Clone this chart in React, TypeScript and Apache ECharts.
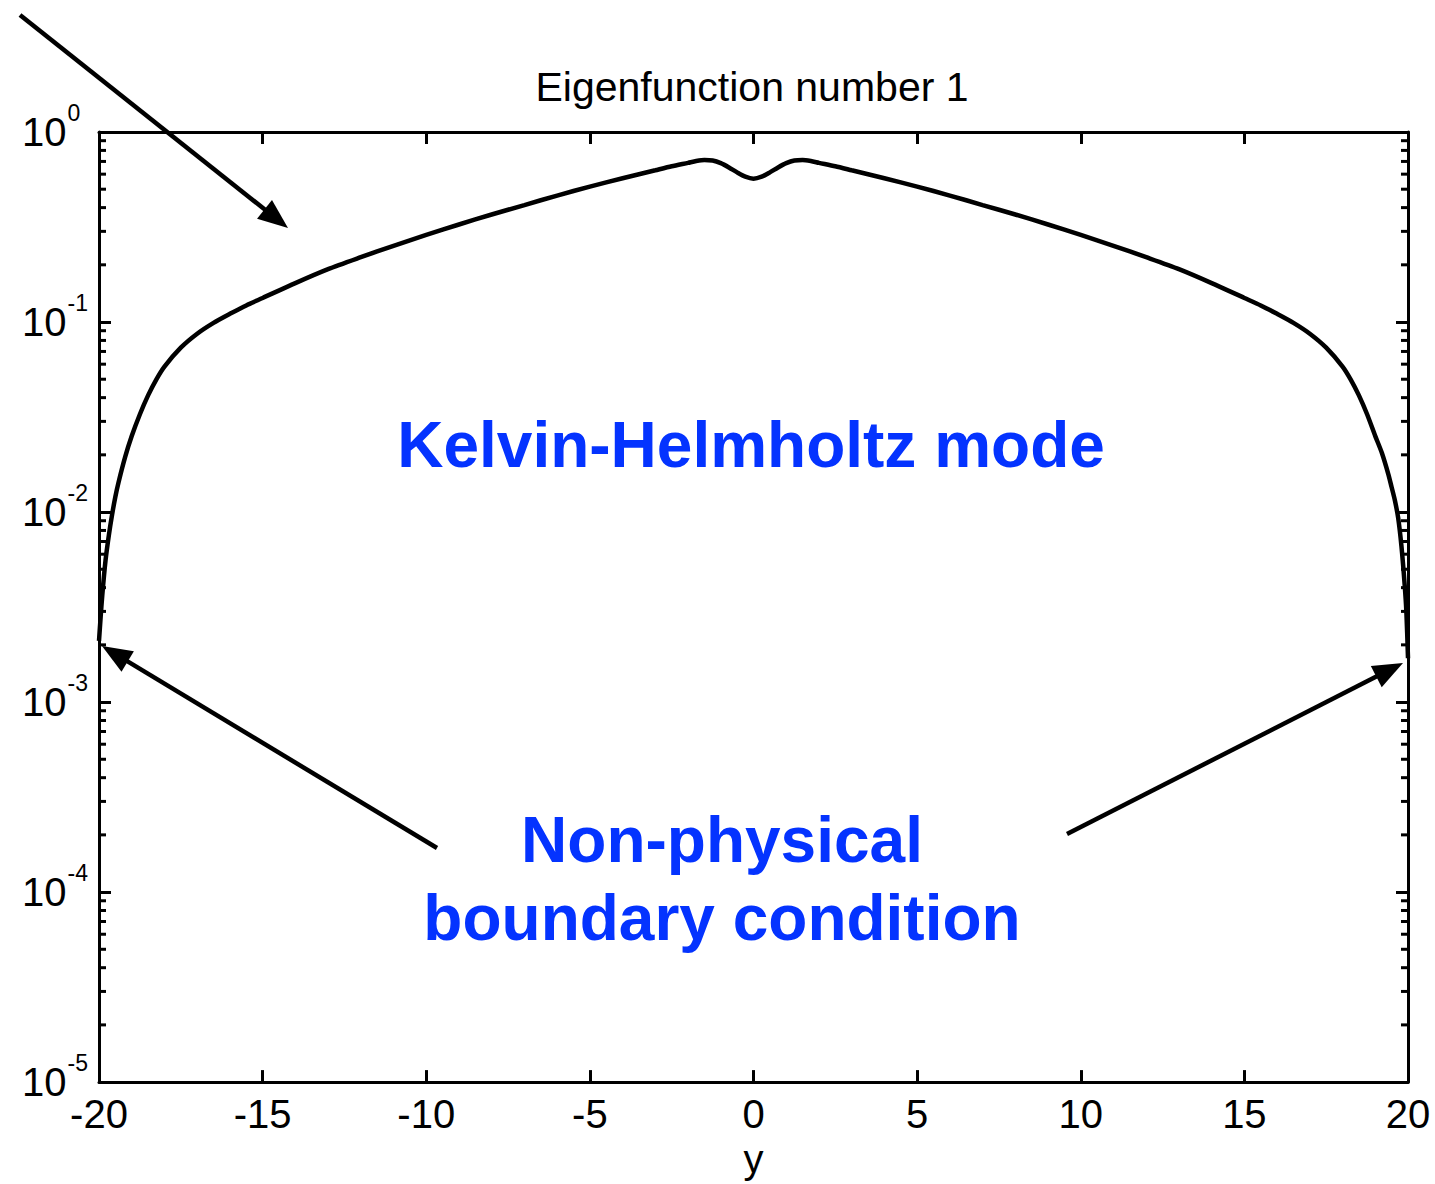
import React, { useEffect, useRef } from "react";
import * as echarts from "echarts";

// Eigenfunction profile: position y and |amplitude| (log scale)
const positions = [
  -20, -19.95, -19.9, -19.8, -19.7, -19.6, -19.5, -19.4, -19.2, -19, -18.75, -18.5,
  -18.25, -18, -17.5, -17, -16.5, -16, -15.5, -15, -14, -13, -12, -11, -10, -9, -8, -7,
  -6, -5, -4, -3, -2.5, -2, -1.75, -1.5, -1.25, -1, -0.75, -0.5, -0.25, 0, 0.25, 0.5,
  0.75, 1, 1.25, 1.5, 1.75, 2, 2.5, 3, 4, 5, 6, 7, 8, 9, 10, 11, 12, 13, 14, 15, 15.5,
  16, 16.5, 17, 17.5, 18, 18.25, 18.5, 18.75, 19, 19.2, 19.4, 19.5, 19.6, 19.7, 19.8,
  19.9, 19.95, 20,
];
const amplitude = [
  0.0021, 0.0028, 0.00365, 0.00557, 0.00753, 0.00969, 0.01204, 0.0144, 0.0195, 0.0251,
  0.0327, 0.0411, 0.0498, 0.0583, 0.0733, 0.0868, 0.099, 0.1104, 0.1223, 0.1338,
  0.1603, 0.1898, 0.2193, 0.2519, 0.2875, 0.326, 0.368, 0.4126, 0.463, 0.516, 0.571,
  0.629, 0.66, 0.688, 0.703, 0.712, 0.708, 0.686, 0.651, 0.613, 0.582, 0.568, 0.582,
  0.613, 0.651, 0.686, 0.708, 0.712, 0.703, 0.688, 0.66, 0.629, 0.571, 0.516, 0.463,
  0.4126, 0.368, 0.326, 0.2875, 0.2519, 0.2193, 0.1898, 0.1603, 0.1338, 0.1223, 0.1104,
  0.099, 0.0868, 0.0733, 0.0583, 0.0498, 0.0411, 0.0327, 0.0251, 0.0205, 0.0158,
  0.0135, 0.0115, 0.0093, 0.0066, 0.0041, 0.003, 0.0017,
];

// Log axis decades and the mantissas that get minor ticks
const decades = [-5, -4, -3, -2, -1];
const minorMantissas = [2, 3, 4, 5, 6, 7, 8, 9];

const FONT = "'Liberation Sans', Arial, Helvetica, sans-serif";
const BLUE = "#0433ff";

// Annotation arrows: [start, tip] in page pixels
const arrows: [number[], number[]][] = [
  [[20, 15], [288, 228]],
  [[437, 848], [102, 646]],
  [[1067, 834], [1403, 663]],
];

function arrowGraphics(start: number[], tip: number[]) {
  const dx = tip[0] - start[0];
  const dy = tip[1] - start[1];
  const len = Math.hypot(dx, dy);
  const ux = dx / len;
  const uy = dy / len;
  const headLen = 30;
  const half = 12;
  const bx = tip[0] - ux * headLen;
  const by = tip[1] - uy * headLen;
  return [
    {
      type: "line",
      shape: { x1: start[0], y1: start[1], x2: bx + ux * 4, y2: by + uy * 4 },
      style: { stroke: "#000", lineWidth: 4.5 },
      z: 100,
    },
    {
      type: "polygon",
      shape: {
        points: [
          [tip[0], tip[1]],
          [bx - uy * half, by + ux * half],
          [bx + uy * half, by - ux * half],
        ],
      },
      style: { fill: "#000" },
      z: 100,
    },
  ];
}

export default function App() {
  const ref = useRef<HTMLDivElement>(null);

  useEffect(() => {
    if (!ref.current) return;
    const chart = echarts.init(ref.current, undefined, { renderer: "svg" });

    const minorTicks: number[][] = [];
    decades.forEach((d) => {
      minorMantissas.forEach((m) => minorTicks.push([-20, m * Math.pow(10, d)]));
    });

    const axisLine = { onZero: false, lineStyle: { color: "#000", width: 3 } };
    const axisTick = { inside: true, length: 12, lineStyle: { color: "#000", width: 3 } };

    chart.setOption({
      animation: false,
      backgroundColor: "#fff",
      grid: { left: 99, top: 132, width: 1309, height: 956, containLabel: false },
      xAxis: [
        {
          type: "value",
          min: -20,
          max: 20,
          interval: 5,
          position: "bottom",
          axisLine,
          axisTick,
          splitLine: { show: false },
          axisLabel: { fontSize: 40, color: "#000", margin: 12, fontFamily: FONT },
          name: "y",
          nameLocation: "middle",
          nameGap: 54,
          nameTextStyle: { fontSize: 40, color: "#000", fontFamily: FONT },
        },
        {
          type: "value",
          min: -20,
          max: 20,
          interval: 5,
          position: "top",
          axisLine,
          axisTick,
          splitLine: { show: false },
          axisLabel: { show: false },
        },
      ],
      yAxis: [
        {
          type: "log",
          logBase: 10,
          min: 1e-5,
          max: 1,
          splitNumber: 5,
          position: "left",
          axisLine,
          axisTick,
          splitLine: { show: false },
          axisLabel: {
            align: "left",
            margin: 77,
            fontFamily: FONT,
            color: "#000",
            formatter: (v: number) => `{b|10}{s|${Math.round(Math.log10(v))}}`,
            rich: {
              b: { fontSize: 40, lineHeight: 40, color: "#000", fontFamily: FONT },
              s: {
                fontSize: 23,
                lineHeight: 23,
                color: "#000",
                fontFamily: FONT,
                padding: [0, 0, 38, 1],
              },
            },
          },
        },
        {
          type: "log",
          logBase: 10,
          min: 1e-5,
          max: 1,
          splitNumber: 5,
          position: "right",
          axisLine,
          axisTick,
          splitLine: { show: false },
          axisLabel: { show: false },
        },
      ],
      series: [
        {
          type: "line",
          xAxisIndex: 0,
          yAxisIndex: 0,
          data: positions.map((p, i) => [p, amplitude[i]]),
          showSymbol: false,
          smooth: 0.25,
          lineStyle: { color: "#000", width: 4.5 },
          clip: true,
          z: 5,
        },
        {
          type: "custom",
          xAxisIndex: 0,
          yAxisIndex: 0,
          coordinateSystem: "cartesian2d",
          data: minorTicks,
          encode: { x: 0, y: 1 },
          silent: true,
          clip: false,
          renderItem: (_params: any, api: any) => {
            const v = api.value(1);
            const l = api.coord([-20, v]);
            const r = api.coord([20, v]);
            return {
              type: "group",
              children: [
                {
                  type: "line",
                  shape: { x1: l[0], y1: l[1], x2: l[0] + 7, y2: l[1] },
                  style: { stroke: "#000", lineWidth: 3 },
                },
                {
                  type: "line",
                  shape: { x1: r[0], y1: r[1], x2: r[0] - 7, y2: r[1] },
                  style: { stroke: "#000", lineWidth: 3 },
                },
              ],
            };
          },
        },
      ],
      graphic: [
        {
          type: "text",
          x: 752,
          y: 87,
          style: {
            text: "Eigenfunction number 1",
            fontSize: 41,
            fontFamily: FONT,
            fill: "#000",
            align: "center",
            verticalAlign: "middle",
          },
        },
        {
          type: "text",
          x: 751,
          y: 445,
          style: {
            text: "Kelvin-Helmholtz mode",
            fontSize: 64,
            fontWeight: "bold",
            fontFamily: FONT,
            fill: BLUE,
            align: "center",
            verticalAlign: "middle",
          },
        },
        {
          type: "text",
          x: 722,
          y: 840,
          style: {
            text: "Non-physical",
            fontSize: 64,
            fontWeight: "bold",
            fontFamily: FONT,
            fill: BLUE,
            align: "center",
            verticalAlign: "middle",
          },
        },
        {
          type: "text",
          x: 722,
          y: 918,
          style: {
            text: "boundary condition",
            fontSize: 64,
            fontWeight: "bold",
            fontFamily: FONT,
            fill: BLUE,
            align: "center",
            verticalAlign: "middle",
          },
        },
        ...arrows.flatMap(([s, t]) => arrowGraphics(s, t)),
      ],
    });

    return () => chart.dispose();
  }, []);

  return (
    <div
      ref={ref}
      style={{ position: "fixed", left: 0, top: 0, width: 1435, height: 1184, background: "#fff" }}
    />
  );
}
